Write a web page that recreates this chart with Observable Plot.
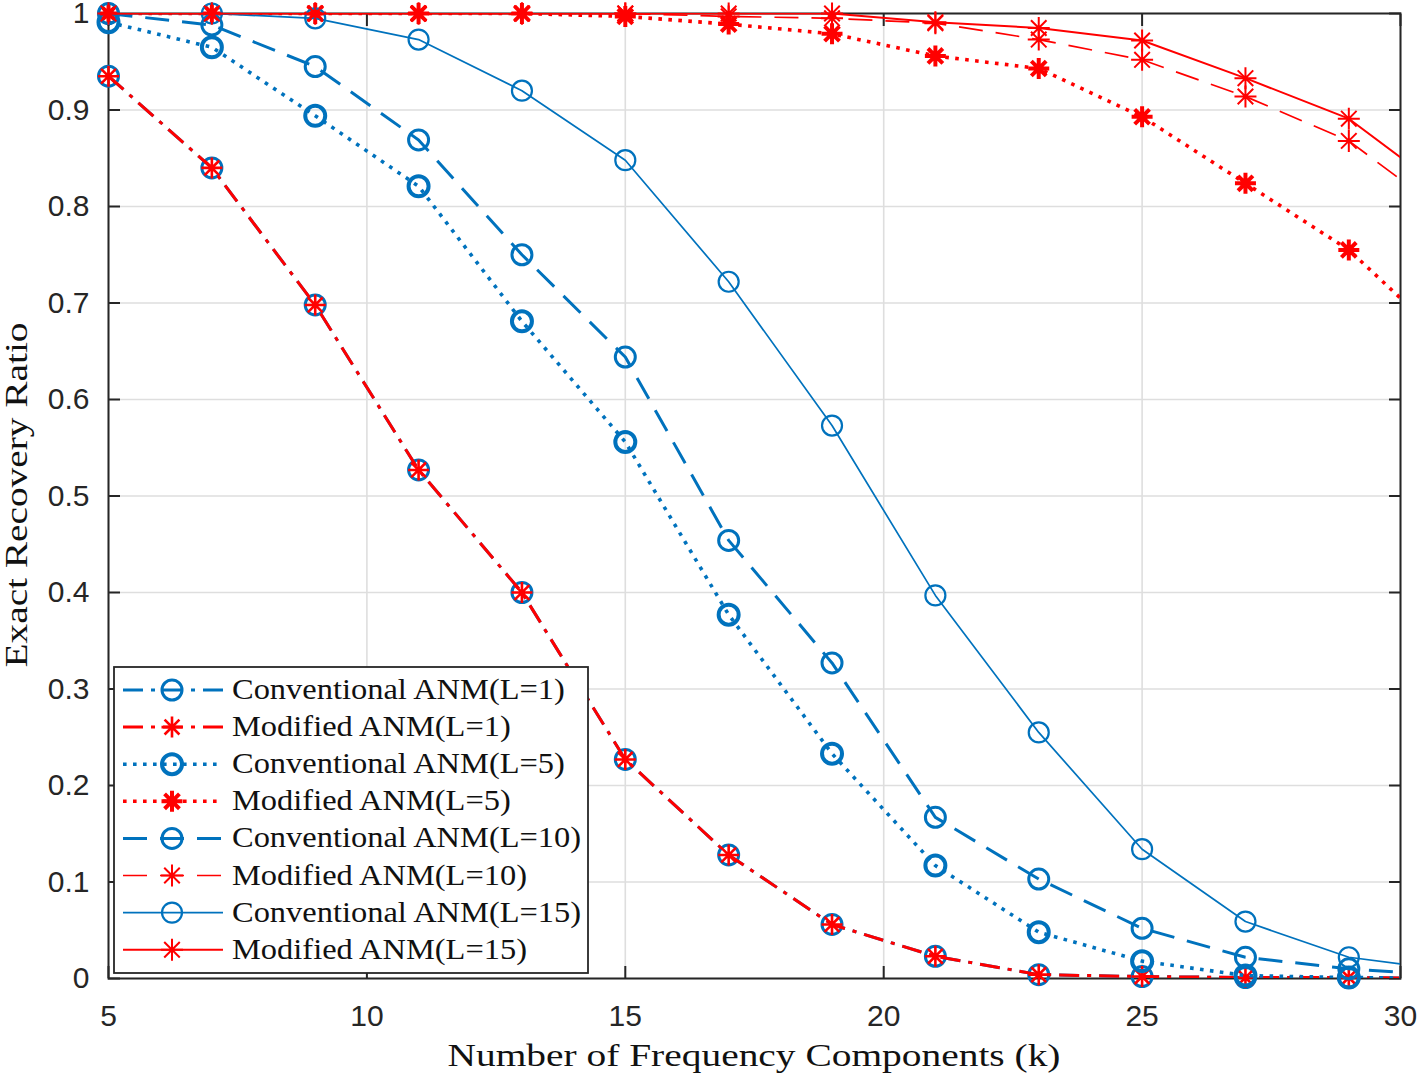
<!DOCTYPE html>
<html>
<head>
<meta charset="utf-8">
<script src="https://cdn.jsdelivr.net/npm/d3@7"></script>
<script src="https://cdn.jsdelivr.net/npm/@observablehq/plot@0.6"></script>
<style>
  html, body { margin: 0; padding: 0; background: #fff; }
  #chart { width: 1418px; height: 1077px; }
</style>
</head>
<body>
<div id="chart"></div>
<script>
// ---------- data ----------
const k = [5, 7, 9, 11, 13, 15, 17, 19, 21, 23, 25, 27, 29, 31];
const convL1  = [0.935, 0.840, 0.698, 0.527, 0.400, 0.227, 0.128, 0.056, 0.023, 0.004, 0.002, 0.001, 0.001, 0.000];
const modL1   = [0.935, 0.840, 0.698, 0.527, 0.400, 0.227, 0.128, 0.056, 0.023, 0.004, 0.002, 0.001, 0.001, 0.000];
const convL5  = [0.991, 0.965, 0.894, 0.821, 0.681, 0.556, 0.377, 0.233, 0.117, 0.048, 0.018, 0.003, 0.001, 0.000];
const modL5   = [1.000, 1.000, 1.000, 1.000, 1.000, 0.997, 0.989, 0.979, 0.956, 0.943, 0.893, 0.824, 0.755, 0.655];
const convL10 = [1.000, 0.988, 0.945, 0.869, 0.750, 0.644, 0.454, 0.327, 0.167, 0.103, 0.052, 0.022, 0.010, 0.003];
const modL10  = [1.000, 1.000, 1.000, 1.000, 1.000, 1.000, 0.997, 0.995, 0.990, 0.973, 0.952, 0.914, 0.868, 0.788];
const convL15 = [1.000, 1.000, 0.995, 0.973, 0.920, 0.848, 0.722, 0.573, 0.397, 0.255, 0.134, 0.059, 0.022, 0.008];
const modL15  = [1.000, 1.000, 1.000, 1.000, 1.000, 1.000, 1.000, 1.000, 0.991, 0.985, 0.972, 0.933, 0.891, 0.811];

const seriesNames = [
  "Conventional ANM(L=1)", "Modified ANM(L=1)",
  "Conventional ANM(L=5)", "Modified ANM(L=5)",
  "Conventional ANM(L=10)", "Modified ANM(L=10)",
  "Conventional ANM(L=15)", "Modified ANM(L=15)"
];
const seriesValues = [convL1, modL1, convL5, modL5, convL10, modL10, convL15, modL15];

const xTicks = [5, 10, 15, 20, 25, 30];
const yTicks = [0, 0.1, 0.2, 0.3, 0.4, 0.5, 0.6, 0.7, 0.8, 0.9, 1];
const xLabel = "Number of Frequency Components (k)";
const yLabel = "Exact Recovery Ratio";

// ---------- styles ----------
const blue = "#0072BD", red = "#FF0000", ink = "#262626";
const DASHDOT = "20,8,4,8", DOT = "3.6,6.4", DASH = "24,13";
const asterisk = {
  draw(ctx, size) {
    const r = Math.sqrt(size / Math.PI);
    const d = r * Math.SQRT1_2;
    ctx.moveTo(0, -r); ctx.lineTo(0, r);
    ctx.moveTo(-r, 0); ctx.lineTo(r, 0);
    ctx.moveTo(-d, -d); ctx.lineTo(d, d);
    ctx.moveTo(-d, d); ctx.lineTo(d, -d);
  }
};
const styles = [
  {color: blue, dash: DASHDOT, lw: 3,   sym: "circle", mw: 3,   r: 10},
  {color: red,  dash: DASHDOT, lw: 3,   sym: asterisk, mw: 2.6, r: 10.5},
  {color: blue, dash: DOT,     lw: 3.6, sym: "circle", mw: 4,   r: 10},
  {color: red,  dash: DOT,     lw: 3.6, sym: asterisk, mw: 4,   r: 10.5},
  {color: blue, dash: DASH,    lw: 3,   sym: "circle", mw: 3,   r: 10},
  {color: red,  dash: DASH,    lw: 1.7, sym: asterisk, mw: 2,   r: 11},
  {color: blue, dash: null,    lw: 1.7, sym: "circle", mw: 2.2, r: 10},
  {color: red,  dash: null,    lw: 2,   sym: asterisk, mw: 2,   r: 11}
];

const series = seriesNames.map((name, i) => ({
  name, ...styles[i],
  rows: k.map((kk, j) => ({k: kk, v: seriesValues[i][j]}))
}));

// ---------- marks ----------
const marks = [
  Plot.gridX(xTicks, {stroke: "#dedede", strokeOpacity: 1, strokeWidth: 1.6}),
  Plot.gridY(yTicks, {stroke: "#dedede", strokeOpacity: 1, strokeWidth: 1.6}),
  Plot.frame({stroke: ink, strokeWidth: 2}),
  Plot.axisX(xTicks, {anchor: "bottom", tickSize: -12, tickPadding: 38, fontSize: 30, strokeWidth: 2, tickFormat: d => String(d), label: null}),
  Plot.axisX(xTicks, {anchor: "top", tickSize: -12, tickFormat: () => "", strokeWidth: 2, label: null}),
  Plot.axisY(yTicks, {anchor: "left", tickSize: -12, tickPadding: 31, fontSize: 30, strokeWidth: 2, tickFormat: d => String(d), label: null}),
  Plot.axisY(yTicks, {anchor: "right", tickSize: -12, tickFormat: () => "", strokeWidth: 2, label: null})
];
for (const s of series) {
  marks.push(Plot.line(s.rows, {x: "k", y: "v", stroke: s.color, strokeWidth: s.lw,
    strokeDasharray: s.dash ?? undefined, strokeLinecap: "butt", clip: true}));
  marks.push(Plot.dot(s.rows.filter(d => d.k <= 30), {x: "k", y: "v", r: s.r, symbol: s.sym,
    stroke: s.color, fill: "none", strokeWidth: s.mw}));
}

const svgEl = Plot.plot({
  width: 1418, height: 1077,
  marginLeft: 108, marginRight: 18, marginTop: 13, marginBottom: 99,
  x: {type: "linear", domain: [5, 30]},
  y: {type: "linear", domain: [0, 1]},
  style: {background: "#fff", color: ink, fontFamily: "'Liberation Sans', Arial, sans-serif", overflow: "visible"},
  marks
});
document.getElementById("chart").appendChild(svgEl);

// ---------- axis labels & legend (decorations) ----------
const svg = d3.select(svgEl);
const serif = "'Liberation Serif', 'Times New Roman', serif";

svg.append("text")
  .attr("x", 754).attr("y", 1066)
  .attr("text-anchor", "middle")
  .attr("font-family", serif).attr("font-size", 31).attr("fill", "#111")
  .attr("textLength", 613).attr("lengthAdjust", "spacingAndGlyphs")
  .text(xLabel);

svg.append("text")
  .attr("transform", "translate(27,495) rotate(-90)")
  .attr("text-anchor", "middle")
  .attr("font-family", serif).attr("font-size", 31).attr("fill", "#111")
  .attr("textLength", 345).attr("lengthAdjust", "spacingAndGlyphs")
  .text(yLabel);

const lg = svg.append("g").attr("text-anchor", "start");
lg.append("rect").attr("x", 114).attr("y", 667).attr("width", 474).attr("height", 306)
  .attr("fill", "#fff").attr("stroke", ink).attr("stroke-width", 1.8);

series.forEach((s, i) => {
  const cy = 690 + i * 37.1;
  const g = lg.append("g");
  g.append("line").attr("x1", 123).attr("x2", 223).attr("y1", cy).attr("y2", cy)
    .attr("stroke", s.color).attr("stroke-width", s.lw)
    .attr("stroke-dasharray", s.dash ?? null);
  const type = s.sym === "circle" ? d3.symbolCircle : s.sym;
  g.append("path").attr("transform", `translate(172,${cy})`)
    .attr("d", d3.symbol(type, s.r * s.r * Math.PI)())
    .attr("fill", "none")
    .attr("stroke", s.color).attr("stroke-width", s.mw);
  const t = g.append("text").attr("x", 232).attr("y", cy + 9)
    .attr("text-anchor", "start")
    .attr("font-family", serif).attr("font-size", 29.5).attr("fill", "#111")
    .text(s.name);
  const w = t.node().getComputedTextLength();
  t.attr("textLength", w * 1.1).attr("lengthAdjust", "spacingAndGlyphs");
});
</script>
</body>
</html>
